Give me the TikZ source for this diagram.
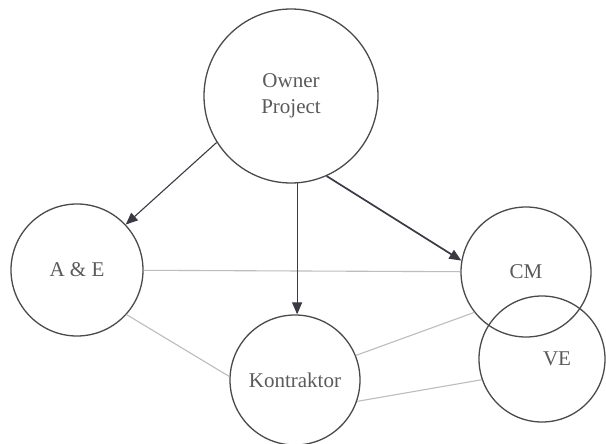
\documentclass[tikz,border=0pt]{standalone}
\usepackage{fontspec}
\setmainfont{Liberation Serif}
\usetikzlibrary{arrows.meta}
\definecolor{ringcol}{HTML}{4A4A4A}
\definecolor{labelcol}{HTML}{5A5A5A}
\definecolor{arrowcol}{HTML}{3A3A45}
\definecolor{linkcol}{HTML}{BDBDBD}
\tikzset{
  party/.style={circle, draw=ringcol, line width=1.3pt, inner sep=0pt,
    text=labelcol, align=center, font=\fontsize{21}{26}\selectfont},
  flow/.style={draw=arrowcol, line width=1.1pt,
    -{Triangle[length=12pt,width=10pt]}},
  strongflow/.style={flow, line width=1.7pt},
  link/.style={draw=linkcol, line width=1.1pt}
}
\begin{document}
\begin{tikzpicture}[x=1pt,y=-1pt]
  \useasboundingbox[fill=white] (0,0) rectangle (606,444);

  % participants
  \node[party, minimum size=174pt] (owner) at (291,96) {Owner\\Project};
  \node[party, minimum size=132pt] (ae) at (77,270) {A \& E};
  \node[party, minimum size=130pt] (cm) at (526,272) {CM};
  \node[party, minimum size=130pt] (kon) at (295,380) {Kontraktor};
  \node[party, minimum size=126pt] (ve) at (542,359) {\hspace*{30pt}VE};

  % lines of coordination
  \draw[link] (ae) -- (cm);
  \draw[link] (ae.-42) -- (kon.177);
  \draw[link] (kon.22) -- (cm.218);
  \draw[link] (kon.-19) -- (ve.199);

  % lines of command from the owner
  \draw[flow] (owner.212) -- (ae.43);
  \draw[flow] (owner.-86) -- (owner.-86 |- kon.north);
  \draw[strongflow] (owner.-66) -- (cm.170);
\end{tikzpicture}
\end{document}
